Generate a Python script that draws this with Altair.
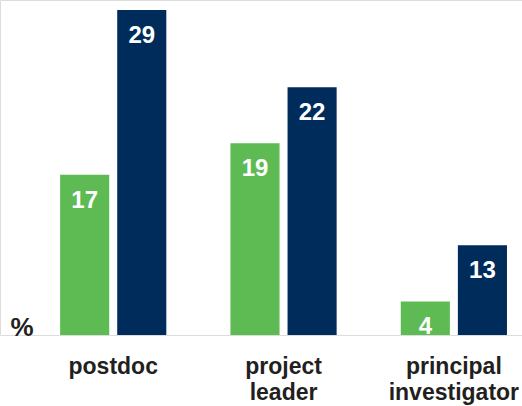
import altair as alt
import pandas as pd

# --- data ---
categories = ["postdoc", "project leader", "principal investigator"]
series = ["series 1", "series 2"]
labels_series1 = [17, 19, 4]       # printed values (green)
labels_series2 = [29, 22, 13]      # printed values (navy)
# bar heights as drawn in the picture (% units, the figure is not to scale)
heights_series1 = [14.3, 17.1, 3.0]
heights_series2 = [29.0, 22.1, 8.0]
colors = ["#5EBB53", "#002C5C"]

rows = []
for i, c in enumerate(categories):
    rows.append({"category": c, "series": series[0], "height": heights_series1[i], "label": labels_series1[i]})
    rows.append({"category": c, "series": series[1], "height": heights_series2[i], "label": labels_series2[i]})
df = pd.DataFrame(rows)

x_enc = alt.X(
    "category:N",
    sort=categories,
    scale=alt.Scale(paddingInner=0.3765, paddingOuter=0.2206, align=0.8),
    axis=alt.Axis(
        title=None,
        labelAngle=0,
        labelExpr="split(datum.value, ' ')",
        labelFont="Liberation Sans",
        labelFontSize=23,
        labelFontWeight="bold",
        labelColor="#231f20",
        labelPadding=38,
        labelBaseline="alphabetic",
        labelLineHeight=26,
        labelLimit=0,
        labelOverlap=False,
        ticks=False,
        domain=False,
    ),
)
xoff_enc = alt.XOffset("series:N", sort=series, scale=alt.Scale(paddingInner=0.14, paddingOuter=0))
y_enc = alt.Y(
    "height:Q",
    scale=alt.Scale(domain=[0, 29.89], nice=False, zero=True),
    axis=alt.Axis(
        title="%",
        titleAngle=0,
        titleX=10,
        titleY=335,
        titleAlign="left",
        titleBaseline="alphabetic",
        titleFont="Liberation Sans",
        titleFontSize=26,
        titleFontWeight="bold",
        titleColor="#231f20",
        labels=False,
        ticks=False,
        domain=False,
        grid=False,
    ),
)
color_enc = alt.Color("series:N", sort=series, scale=alt.Scale(domain=series, range=colors), legend=None)

base = alt.Chart(df)
bars = base.mark_bar().encode(x=x_enc, xOffset=xoff_enc, y=y_enc, color=color_enc)
texts = base.mark_text(
    baseline="alphabetic",
    align="center",
    dy=33,
    font="Liberation Sans",
    fontSize=24,
    fontWeight="bold",
    color="white",
).encode(x=x_enc, xOffset=xoff_enc, y=y_enc, text="label:N")

chart = (
    alt.layer(bars, texts)
    .properties(
        width=522,
        height=335,
        autosize=alt.AutoSizeParams(type="none"),
        padding={"left": 0, "top": 0, "right": 0, "bottom": 71},
    )
    .configure_view(stroke=None)
    .configure(background="white")
)

chart.save("out.html", embed_options={"renderer": "svg", "actions": False})
